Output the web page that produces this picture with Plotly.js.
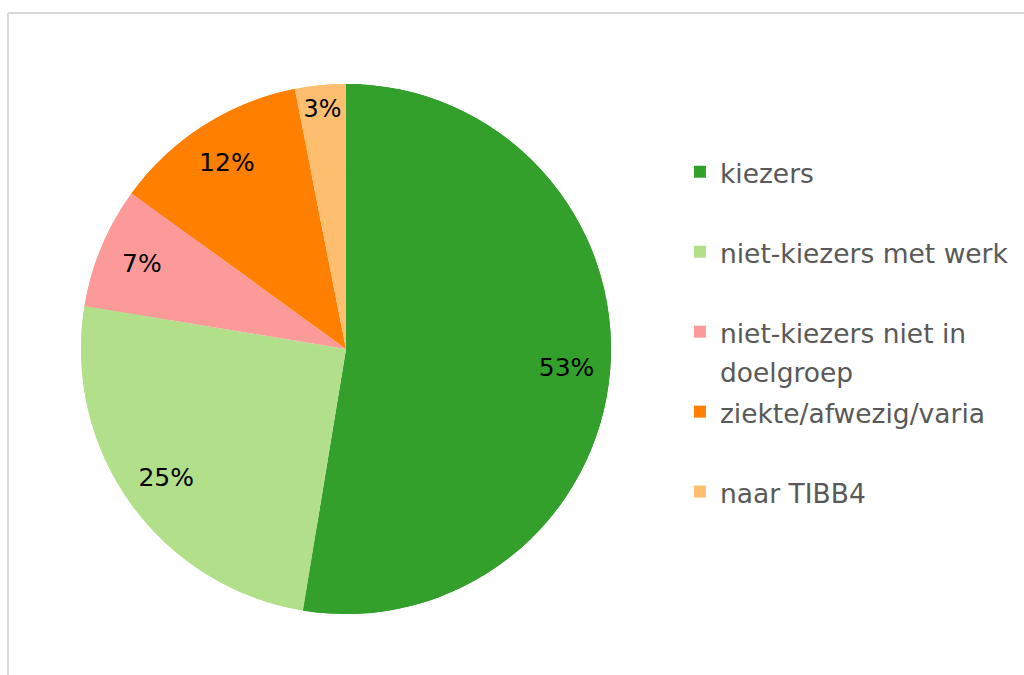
<!DOCTYPE html>
<html>
<head>
<meta charset="utf-8">
<script src="https://cdn.plot.ly/plotly-3.0.1.min.js"></script>
<style>
  html, body { margin: 0; padding: 0; background: #ffffff; }
  #chart { width: 1024px; height: 675px; }
</style>
</head>
<body>
<div id="chart"></div>
<script>
// Categories (legend order = slice order, clockwise from 12 o'clock)
var categories = [
  "kiezers",
  "niet-kiezers met werk",
  "niet-kiezers niet in doelgroep",
  "ziekte/afwezig/varia",
  "naar TIBB4"
];
// Legend line breaks as in the reference
var legendLabels = [
  "kiezers",
  "niet-kiezers met werk",
  "niet-kiezers niet in<br>doelgroep",
  "ziekte/afwezig/varia",
  "naar TIBB4"
];
// Shares (percent)
var shares = [52.6, 25.0, 7.4, 11.9, 3.1];
var colors = ["#33a02c", "#b2df8a", "#fb9a99", "#ff7f00", "#fdbf6f"];

// every legend entry takes two lines so the entries are evenly spaced
var shownLabels = legendLabels.map(function (t) {
  var lines = t.split("<br>");
  while (lines.length < 2) lines.push("&nbsp;");
  return lines.map(function (l) {
    return '<span style="font-size:26.5px">' + l + '</span>';
  }).join("<br>");
});

var pieDomain = { x: [0.0791, 0.5967], y: [0.0904, 0.8756] };

// full pie (slices only)
var fillTrace = {
  type: "pie",
  labels: shownLabels,
  values: shares,
  customdata: categories,
  sort: false,
  direction: "clockwise",
  rotation: 0,
  marker: { colors: colors, line: { width: 0 } },
  textinfo: "none",
  showlegend: false,
  hovertemplate: "%{customdata}: %{percent:.0%}<extra></extra>",
  domain: pieDomain
};

// same slices as an outer ring, carrying the percentage labels near the rim
var labelTrace = {
  type: "pie",
  labels: shownLabels,
  values: shares,
  customdata: categories,
  sort: false,
  direction: "clockwise",
  rotation: 0,
  hole: 0.67,
  marker: { colors: colors, line: { width: 0 } },
  textposition: "inside",
  insidetextorientation: "horizontal",
  texttemplate: "%{percent:.0%}",
  textfont: { family: "DejaVu Sans, Verdana, sans-serif", size: 25, color: "#000000" },
  hovertemplate: "%{customdata}: %{percent:.0%}<extra></extra>",
  domain: pieDomain
};

var layout = {
  width: 1024,
  height: 675,
  margin: { l: 0, r: 0, t: 0, b: 0 },
  paper_bgcolor: "#ffffff",
  showlegend: true,
  legend: {
    x: 0.664,
    xanchor: "left",
    y: 0.7837,
    yanchor: "top",
    valign: "top",
    bgcolor: "rgba(0,0,0,0)",
    font: { family: "DejaVu Sans, Verdana, sans-serif", size: 29.6, color: "#595959" }
  },
  shapes: [
    { type: "line", xref: "paper", yref: "paper", x0: 8 / 1024, x1: 8 / 1024, y0: 0, y1: 1 - 13 / 675,
      line: { color: "#d9d9d9", width: 2 } },
    { type: "line", xref: "paper", yref: "paper", x0: 8 / 1024, x1: 1, y0: 1 - 13 / 675, y1: 1 - 13 / 675,
      line: { color: "#d9d9d9", width: 2 } }
  ]
};

Plotly.newPlot("chart", [fillTrace, labelTrace], layout, { displayModeBar: false });
</script>
</body>
</html>
